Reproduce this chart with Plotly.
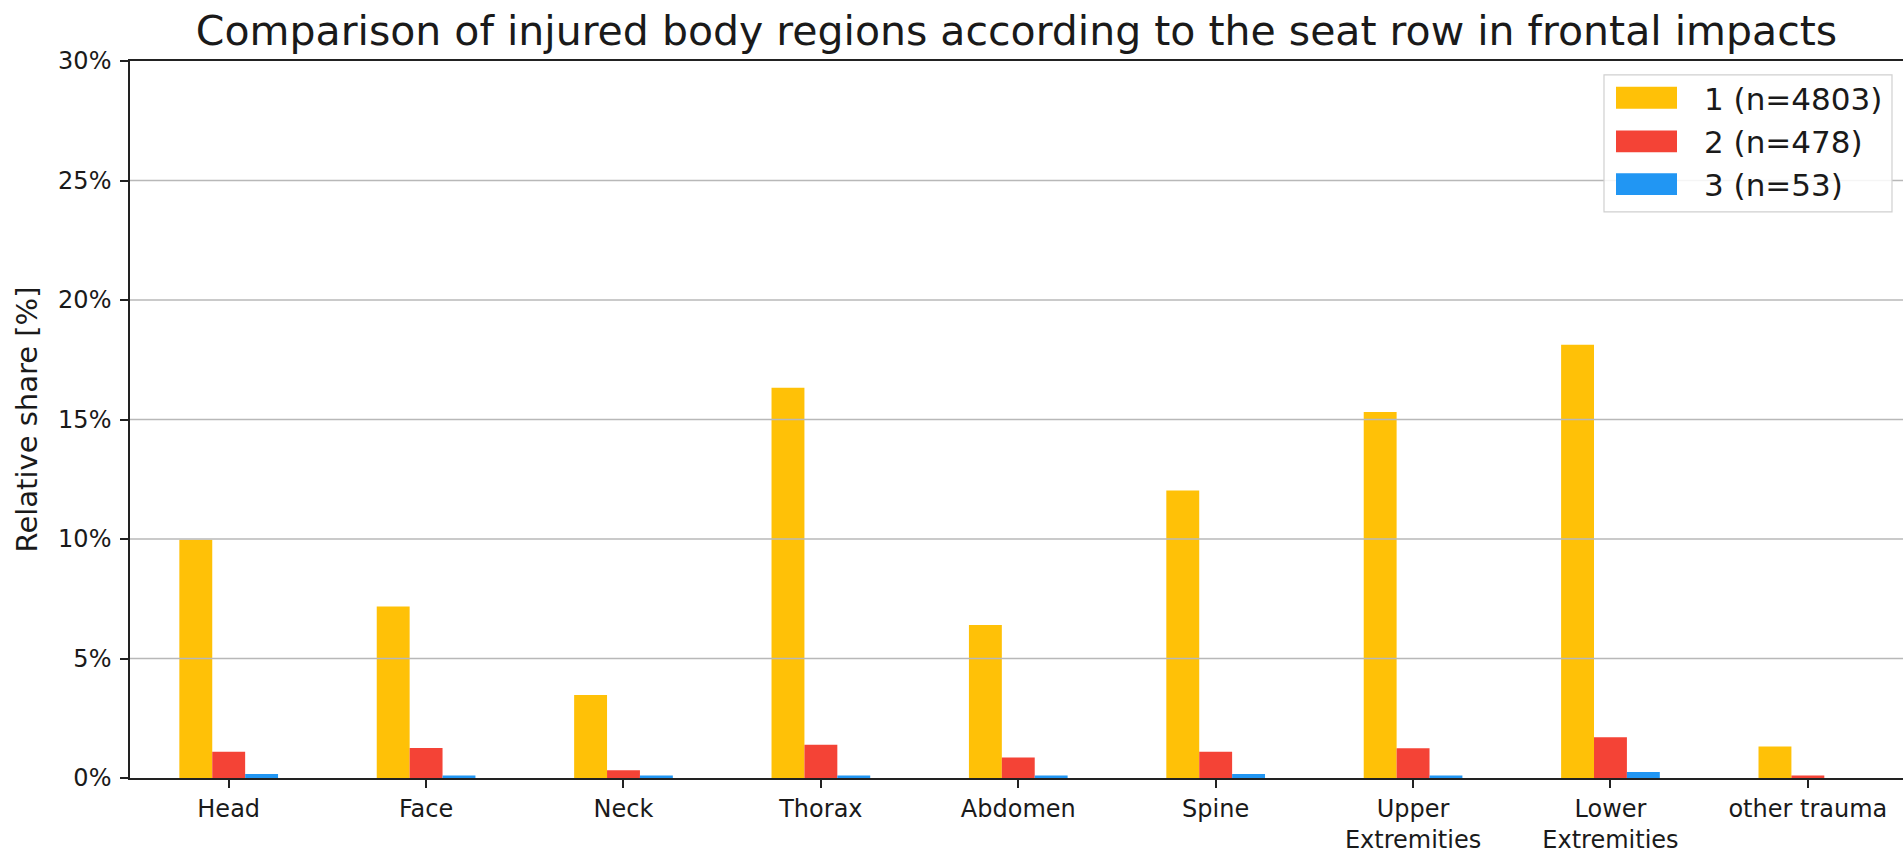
import plotly.graph_objects as go

categories = ["Head", "Face", "Neck", "Thorax", "Abdomen", "Spine",
              "Upper<br>Extremities", "Lower<br>Extremities", "other trauma"]
row1 = [9.97, 7.18, 3.47, 16.33, 6.40, 12.03, 15.31, 18.13, 1.32]
row2 = [1.10, 1.26, 0.32, 1.39, 0.86, 1.10, 1.25, 1.71, 0.10]
row3 = [0.17, 0.10, 0.10, 0.10, 0.10, 0.17, 0.10, 0.25, 0.0]
series_names = ["1 (n=4803)", "2 (n=478)", "3 (n=53)"]
series_colors = ["#FFC107", "#F44336", "#2196F3"]
ytick_vals = [0, 5, 10, 15, 20, 25, 30]
ytick_text = ["0%", "5%", "10%", "15%", "20%", "25%", "30%"]

FONT = "DejaVu Sans"
TXT = "#1a1a1a"

W, H = 1903, 854
ML, MR, MT, MB = 130, 0, 61, 71
PW, PH = W - ML - MR, H - MT - MB


def px_x(p):
    return (p - ML) / PW


def px_y(p):
    return (H - MB - p) / PH


fig = go.Figure()
for name, vals, col in zip(series_names, [row1, row2, row3], series_colors):
    fig.add_trace(go.Bar(x=list(range(len(categories))), y=vals, name=name,
                         showlegend=False,
                         marker=dict(color=col, line=dict(width=0))))

# gridlines drawn above bars (as in the reference)
for v in ytick_vals[1:-1]:
    fig.add_shape(type="line", xref="paper", x0=0, x1=1, yref="y", y0=v, y1=v,
                  line=dict(color="#b8b8b8", width=1.5), layer="above")

# legend box (matplotlib-style with wide swatches)
fig.add_shape(type="rect", xref="paper", yref="paper",
              x0=px_x(1604), x1=px_x(1892), y0=px_y(213), y1=px_y(75),
              fillcolor="rgba(255,255,255,0.85)", line=dict(color="#d0d0d0", width=1.2),
              layer="above")
row_centers = [98, 142, 185]
for name, col, yc in zip(series_names, series_colors, row_centers):
    fig.add_shape(type="rect", xref="paper", yref="paper",
                  x0=px_x(1616), x1=px_x(1677), y0=px_y(yc + 11), y1=px_y(yc - 11),
                  fillcolor=col, line=dict(width=0), layer="above")
    fig.add_annotation(text=name, xref="paper", yref="paper",
                       x=px_x(1703), y=px_y(yc + 1), xanchor="left", yanchor="middle",
                       showarrow=False, borderpad=0,
                       font=dict(family=FONT, size=31, color=TXT))

fig.update_layout(
    width=W, height=H,
    margin=dict(l=ML, r=MR, t=MT, b=MB),
    paper_bgcolor="white", plot_bgcolor="white",
    barmode="group", bargap=0.5, bargroupgap=0,
    font=dict(family=FONT, color=TXT, size=24),
    title=dict(text="Comparison of injured body regions according to the seat row in frontal impacts",
               font=dict(family=FONT, size=41, color=TXT),
               x=0.5, xref="paper", xanchor="center",
               y=1 - 31 / H, yref="container", yanchor="middle"),
    showlegend=False,
)
fig.update_xaxes(
    range=[-0.5, 8.482],
    tickmode="array", tickvals=list(range(len(categories))), ticktext=categories,
    ticks="outside", ticklen=8, tickwidth=1.5, tickcolor="#222",
    showline=True, linecolor="#222", linewidth=1.5, mirror=True,
    showgrid=False, zeroline=False,
    tickfont=dict(family=FONT, size=24, color=TXT),
)
fig.update_yaxes(
    range=[0, 30],
    tickmode="array", tickvals=ytick_vals, ticktext=ytick_text,
    ticks="outside", ticklen=8, tickwidth=1.5, tickcolor="#222",
    showline=True, linecolor="#222", linewidth=1.5,
    showgrid=False, zeroline=False, ticklabelstandoff=4,
    tickfont=dict(family=FONT, size=24, color=TXT),
    title=dict(text="Relative share [%]", font=dict(family=FONT, size=29, color=TXT), standoff=12),
)

fig.write_html("out.html", config={"displayModeBar": False},
               post_script="document.body.style.margin='0';")
